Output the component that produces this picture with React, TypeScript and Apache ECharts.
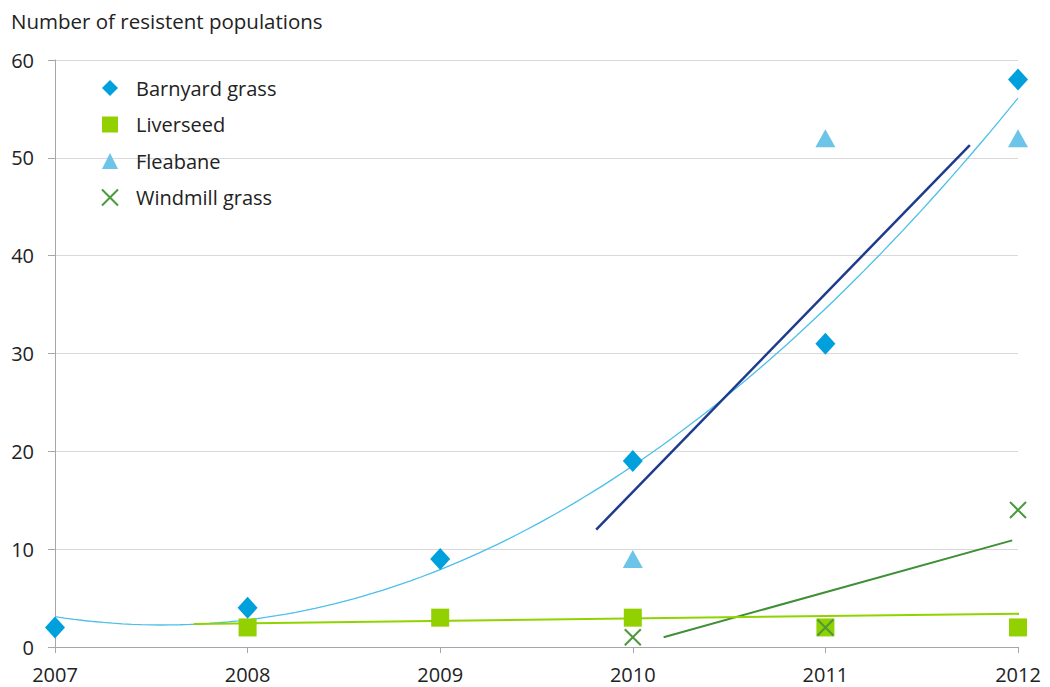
import React, { useEffect, useRef } from "react";
import * as echarts from "echarts";

// ---- data ----
const years = [2007, 2008, 2009, 2010, 2011, 2012];
const barnyardYears = [2007, 2008, 2009, 2010, 2011, 2012];
const barnyardValues = [2, 4, 9, 19, 31, 58];
const liverseedYears = [2008, 2009, 2010, 2011, 2012];
const liverseedValues = [2, 3, 3, 2, 2];
const fleabaneYears = [2010, 2011, 2012];
const fleabaneValues = [9, 52, 52];
const windmillYears = [2010, 2011, 2012];
const windmillValues = [1, 2, 14];

// straight trend lines as drawn in the reference (start / end points)
const fleabaneTrend = [
  [2009.81, 12.0],
  [2011.75, 51.3],
];
const windmillTrend = [
  [2010.16, 1.0],
  [2011.97, 10.9],
];
const liverseedTrend = [
  [2007.72, 2.35],
  [2012.17, 3.45],
];

const yTicks = { min: 0, max: 60, interval: 10 };

// 2nd-order polynomial least-squares trendline of barnyard grass
function quadFit(xs: number[], ys: number[]) {
  const x0 = xs[0];
  const X = xs.map((x) => x - x0);
  let s0 = X.length, s1 = 0, s2 = 0, s3 = 0, s4 = 0, t0 = 0, t1 = 0, t2 = 0;
  X.forEach((x, i) => {
    const y = ys[i];
    s1 += x; s2 += x * x; s3 += x ** 3; s4 += x ** 4;
    t0 += y; t1 += x * y; t2 += x * x * y;
  });
  const M = [
    [s0, s1, s2, t0],
    [s1, s2, s3, t1],
    [s2, s3, s4, t2],
  ];
  for (let i = 0; i < 3; i++) {
    for (let k = i + 1; k < 3; k++) {
      const f = M[k][i] / M[i][i];
      for (let j = i; j < 4; j++) M[k][j] -= f * M[i][j];
    }
  }
  const c = [0, 0, 0];
  for (let i = 2; i >= 0; i--) {
    let s = M[i][3];
    for (let j = i + 1; j < 3; j++) s -= M[i][j] * c[j];
    c[i] = s / M[i][i];
  }
  return (x: number) => c[0] + c[1] * (x - x0) + c[2] * (x - x0) ** 2;
}

const barnyardFit = quadFit(barnyardYears, barnyardValues);
const barnyardTrend: number[][] = [];
for (let i = 0; i <= 100; i++) {
  const x = years[0] + (i / 100) * (years[years.length - 1] - years[0]);
  barnyardTrend.push([x, barnyardFit(x)]);
}

const pairs = (xs: number[], ys: number[]) => xs.map((x, i) => [x, ys[i]]);

const FONT = "'Open Sans', sans-serif";
const FS = 20;

export default function App() {
  const ref = useRef<HTMLDivElement>(null);
  useEffect(() => {
    if (!ref.current) return;
    const chart = echarts.init(ref.current, null, { renderer: "svg" });
    const axisGray = "#a6a6a6";
    chart.setOption({
      animation: false,
      backgroundColor: "#ffffff",
      title: {
        text: "Number of resistent populations",
        left: 6,
        top: 5,
        textStyle: { fontFamily: FONT, fontSize: 20.5, fontWeight: "normal", color: "#222" },
      },
      grid: { left: 55, right: 32, top: 60, bottom: 40, containLabel: false },
      legend: {
        orient: "vertical",
        left: 96,
        top: 73,
        itemGap: 16.5,
        itemWidth: 16,
        itemHeight: 16,
        textStyle: { fontFamily: FONT, fontSize: FS, color: "#222", padding: [0, 0, 0, 13] },
        data: ["Barnyard grass", "Liverseed", "Fleabane", "Windmill grass"],
      },
      xAxis: {
        type: "value",
        min: years[0],
        max: years[years.length - 1],
        interval: 1,
        splitLine: { show: false },
        axisLine: { lineStyle: { color: axisGray } },
        axisTick: { show: true, length: 6, lineStyle: { color: axisGray } },
        axisLabel: {
          formatter: (v: number) => String(v),
          fontFamily: FONT,
          fontSize: FS,
          color: "#222",
          margin: 17,
        },
      },
      yAxis: {
        type: "value",
        min: yTicks.min,
        max: yTicks.max,
        interval: yTicks.interval,
        axisLine: { show: true, lineStyle: { color: axisGray } },
        axisTick: { show: true, length: 7, lineStyle: { color: axisGray } },
        splitLine: { lineStyle: { color: "#d9d9d9" } },
        axisLabel: { fontFamily: FONT, fontSize: FS, color: "#222", margin: 21 },
      },
      series: [
        {
          type: "line",
          data: barnyardTrend,
          showSymbol: false,
          symbol: "none",
          lineStyle: { color: "#4cbfea", width: 1.3 },
          z: 2,
          silent: true,
        },
        {
          type: "line",
          data: fleabaneTrend,
          symbol: "none",
          lineStyle: { color: "#1f3b8c", width: 2.5 },
          z: 2,
          silent: true,
        },
        {
          type: "line",
          data: windmillTrend,
          symbol: "none",
          lineStyle: { color: "#3e8f36", width: 2 },
          z: 2,
          silent: true,
        },
        {
          type: "line",
          data: liverseedTrend,
          symbol: "none",
          clip: false,
          lineStyle: { color: "#8fd400", width: 2 },
          z: 2,
          silent: true,
        },
        {
          name: "Barnyard grass",
          type: "scatter",
          data: pairs(barnyardYears, barnyardValues),
          symbol: "diamond",
          symbolSize: [20, 22],
          itemStyle: { color: "#00a0dc", opacity: 1 },
          z: 5,
        },
        {
          name: "Liverseed",
          type: "scatter",
          data: pairs(liverseedYears, liverseedValues),
          symbol: "rect",
          symbolSize: 18,
          itemStyle: { color: "#92d000", opacity: 1 },
          z: 4,
        },
        {
          name: "Fleabane",
          type: "scatter",
          data: pairs(fleabaneYears, fleabaneValues),
          symbol: "triangle",
          symbolSize: [20, 18],
          itemStyle: { color: "#6cc4e8", opacity: 1 },
          z: 4,
        },
        {
          name: "Windmill grass",
          type: "scatter",
          data: pairs(windmillYears, windmillValues),
          symbol: "path://M0,0L10,10M10,0L0,10",
          symbolSize: 16,
          itemStyle: { color: "transparent", borderColor: "#4a9a3c", borderWidth: 2, opacity: 1 },
          z: 6,
        },
      ],
    });
    return () => chart.dispose();
  }, []);
  return (
    <div
      ref={ref}
      style={{ position: "absolute", left: 0, top: 0, width: 1050, height: 687 }}
    />
  );
}
